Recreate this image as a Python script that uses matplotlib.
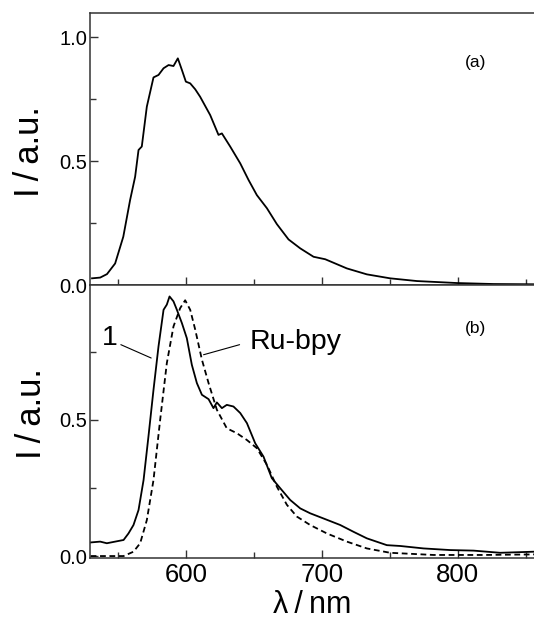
import numpy as np
import matplotlib.pyplot as plt
from matplotlib.ticker import MultipleLocator

plt.rcParams['font.family'] = ['Liberation Sans', 'DejaVu Sans']

# (a) emission spectrum
wl_a = [531, 537, 542, 548, 554, 559, 562.7, 565.2, 567.6, 571.3, 576.2, 579.9, 583.6, 587.3,
        590.9, 594.1, 597.1, 600, 603.2, 606.9, 610.5, 617.9, 624, 626.5, 632.6, 640, 646.1,
        652.2, 659.6, 666.9, 675.5, 684.1, 693.9, 702.5, 718.4, 733.1, 750.2, 769.9, 799.3,
        826.2, 856]
int_a = [0.027, 0.03, 0.044, 0.087, 0.195, 0.343, 0.437, 0.545, 0.559, 0.72, 0.838, 0.848,
         0.875, 0.888, 0.884, 0.915, 0.868, 0.821, 0.814, 0.79, 0.76, 0.686, 0.606, 0.612,
         0.559, 0.491, 0.424, 0.363, 0.31, 0.246, 0.184, 0.148, 0.114, 0.104, 0.067, 0.043,
         0.027, 0.016, 0.008, 0.004, 0.003]

# (b) compound 1 (solid)
wl_1 = [530, 537, 541.9, 548, 554.2, 557.8, 561.5, 565.2, 568.9, 572.5, 576.2, 579.9, 583.6,
        586, 588, 590.9, 593.4, 597.1, 600.7, 604.4, 608.1, 611.8, 616.7, 620.3, 622.8, 626.5,
        630.1, 635, 640, 644.9, 651, 657.1, 663.2, 669.4, 676.7, 684.1, 691.4, 701.2, 713.5,
        723.3, 733.1, 747.8, 757.6, 774.8, 794.4, 811.5, 831.1, 856]
int_1 = [0.05, 0.053, 0.047, 0.053, 0.059, 0.083, 0.114, 0.169, 0.279, 0.439, 0.61, 0.77,
         0.904, 0.923, 0.953, 0.935, 0.904, 0.855, 0.8, 0.702, 0.635, 0.592, 0.576, 0.543,
         0.564, 0.543, 0.555, 0.549, 0.525, 0.488, 0.414, 0.365, 0.286, 0.249, 0.206, 0.175,
         0.157, 0.138, 0.114, 0.089, 0.065, 0.04, 0.037, 0.028, 0.022, 0.02, 0.012, 0.016]

# (b) Ru-bpy reference (dashed)
wl_ru = [530, 554.2, 561.5, 566.4, 571.3, 576.2, 581.1, 586, 590.9, 595.8, 599.5, 603.2,
         606.9, 611.8, 616.7, 622.8, 630.1, 637.5, 644.9, 652.2, 659.6, 666.9, 674.3, 681.6,
         691.4, 703.7, 718.4, 733.1, 750.2, 782.1, 818.9, 856]
int_ru = [0.0, 0.0, 0.016, 0.047, 0.132, 0.279, 0.5, 0.708, 0.843, 0.91, 0.939, 0.904, 0.831,
          0.721, 0.635, 0.537, 0.469, 0.451, 0.426, 0.396, 0.335, 0.255, 0.188, 0.145, 0.114,
          0.083, 0.053, 0.028, 0.012, 0.004, 0.004, 0.006]

fig = plt.figure(figsize=(5.34, 6.2), dpi=100)
ax1 = fig.add_axes([0.1685, 0.5403, 0.8315, 0.4387])
ax2 = fig.add_axes([0.1685, 0.1005, 0.8315, 0.4398])

ax1.plot(wl_a, int_a, color='black', lw=1.3)
ax2.plot(wl_1, int_1, color='black', lw=1.3)
ax2.plot(wl_ru, int_ru, color='black', lw=1.3, dashes=(3.2, 2.0))

for ax in (ax1, ax2):
    ax.set_xlim(529.5, 856)
    ax.xaxis.set_major_locator(MultipleLocator(100))
    ax.xaxis.set_minor_locator(MultipleLocator(50))
    ax.yaxis.set_major_locator(MultipleLocator(0.5))
    ax.yaxis.set_minor_locator(MultipleLocator(0.25))
    ax.tick_params(which='both', direction='in', top=False, right=False, width=1.0, color='#333333')
    ax.tick_params(which='major', length=6)
    ax.tick_params(which='minor', length=4)
    ax.tick_params(axis='y', labelsize=14.5, pad=2)
    ax.tick_params(axis='x', labelsize=18.5, pad=4)
    ax.spines['right'].set_visible(False)
    for s in ('left', 'top', 'bottom'):
        ax.spines[s].set_linewidth(1.1)
        ax.spines[s].set_color('#333333')
    ax.set_ylabel('I\u2009/\u2009a.u.', fontsize=25)

ax1.set_ylim(0, 1.098)
ax2.set_ylim(-0.006, 0.995)
ax1.tick_params(axis='x', labelbottom=False)
ax1.yaxis.set_label_coords(-0.10, 0.49)
ax2.yaxis.set_label_coords(-0.095, 0.53)
ax2.set_xlabel('\u03bb\u2009/\u2009nm', fontsize=22, labelpad=2)

ax1.text(813, 0.90, '(a)', fontsize=12.5, ha='center', va='center')
ax2.text(813, 0.837, '(b)', fontsize=12.5, ha='center', va='center')

ax2.text(544, 0.80, '1', fontsize=20.5, ha='center', va='center')
ax2.annotate('', xy=(574.5, 0.727), xytext=(552.2, 0.776),
             arrowprops=dict(arrowstyle='-', lw=0.8, color='black', shrinkA=0, shrinkB=0))
ax2.text(647, 0.785, 'Ru-bpy', fontsize=20.5, ha='left', va='center')
ax2.annotate('', xy=(613, 0.739), xytext=(639.5, 0.776),
             arrowprops=dict(arrowstyle='-', lw=0.8, color='black', shrinkA=0, shrinkB=0))

fig.savefig('out.png', dpi=100)
